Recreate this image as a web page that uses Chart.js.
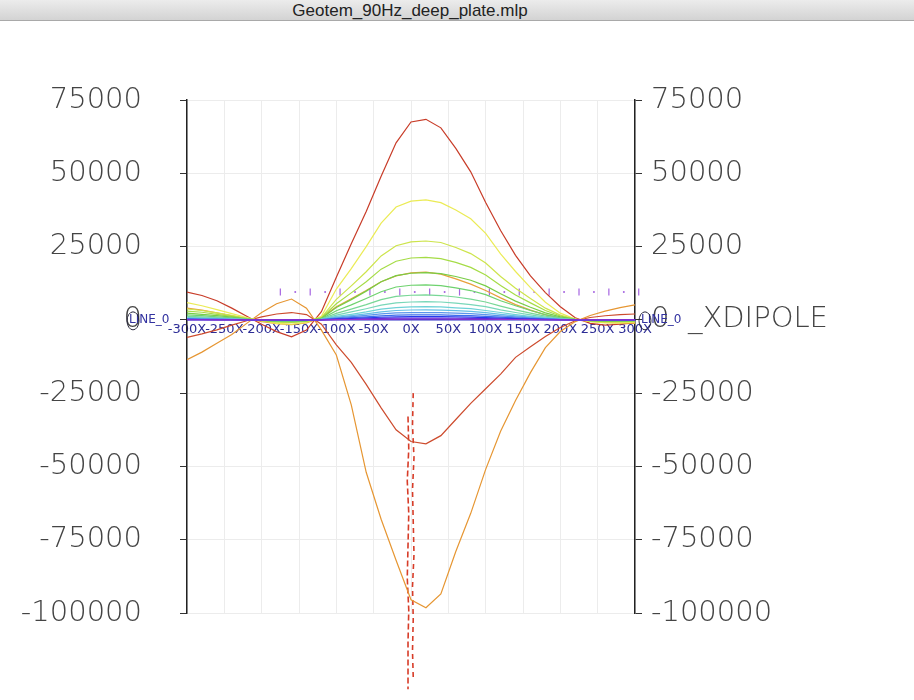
<!DOCTYPE html>
<html lang="en">
<head>
<meta charset="UTF-8">
<title>Geotem_90Hz_deep_plate.mlp</title>
<style>
    body { margin: 0; background: #fff; }
    #janela { position: relative; width: 914px; height: 700px; overflow: hidden; }
    #barra {
        position: absolute; left: 0; top: 0; width: 914px; height: 20px;
        background: linear-gradient(#ececec, #d3d3d3);
        border-bottom: 1px solid #a9a9a9;
        font: 17px "Liberation Sans", Arial, sans-serif; color: #222;
        text-align: center; line-height: 22px; z-index: 2;
    }
    #barra span { position: relative; left: -47px; }
    #caixa { position: absolute; left: 0; top: 0; width: 914px; height: 700px; }
</style>
</head>
<body>
<div id="janela">
    <div id="barra"><span>Geotem_90Hz_deep_plate.mlp</span></div>
    <div id="caixa"><canvas id="grafico"></canvas></div>
</div>
<script src="https://cdn.jsdelivr.net/npm/chart.js"></script>
<script>
// estacoes ao longo da linha (X)
const XS = [-300,-280,-260,-240,-220,-200,-180,-160,-140,-120,-100,-80,-60,-40,-20,0,20,40,60,80,100,120,140,160,180,200,220,240,260,280,300];

// canais
const canalVermelho = [9500,8300,6500,4000,1200,-1500,-4000,-5800,-3500,2800,14500,26000,37000,49000,60400,67500,68400,65500,58500,50500,40000,30500,22000,15000,9300,4500,700,-1200,-1800,-1500,-1000];
const canalVermelhoNeg = [-6000,-4800,-3400,-1800,-300,1000,2000,2500,1800,-1500,-8500,-14500,-22000,-30000,-37500,-41500,-42300,-39500,-34000,-28500,-23500,-18500,-12800,-9200,-5700,-2600,-300,800,1400,1800,2000];
const canalLaranjaNeg = [-13600,-11000,-8000,-5000,-1200,2500,5500,7100,4000,-3500,-12000,-29000,-52000,-68000,-82000,-95500,-98200,-93500,-79000,-66000,-51000,-38000,-27500,-18000,-9500,-4000,-600,1500,3000,4200,5100];
const canalLaranja = [4000,3300,2400,1400,400,-600,-1300,-1600,-1000,700,4500,7200,10000,13000,15000,16000,16300,15600,14000,12200,10000,7500,5200,3300,1700,600,0,-500,-900,-1100,-1200];
const canal01 = [5900,4800,3500,2100,800,-300,-1200,-1500,-900,1200,10500,17500,25000,33000,38500,40500,40900,40000,37500,34500,29500,22500,16500,11000,6000,2300,300,-600,-1000,-1000,-800];
const canal02 = [3700,3200,2400,1500,500,-300,-800,-950,-550,800,7000,11600,16400,21800,25300,26600,26900,26400,24700,22600,19400,14800,10800,7300,4000,1600,300,-400,-700,-700,-500];
const canal03 = [3000,2600,1900,1200,400,-200,-650,-750,-450,650,5500,9200,13000,17300,20000,21100,21300,20900,19600,17900,15300,11700,8500,5800,3200,1300,200,-300,-550,-550,-450];
const canal04 = [2300,1900,1450,900,300,-150,-500,-550,-300,500,4200,6900,9800,13000,15100,15900,16100,15800,14800,13500,11600,8900,6400,4300,2400,1000,150,-250,-400,-400,-300];
const canal05 = [1700,1450,1050,650,250,-100,-350,-400,-250,350,3100,5100,7300,9600,11200,11800,11900,11700,10900,10000,8600,6500,4800,3200,1800,700,100,-200,-300,-300,-250];
const canal06 = [1200,1000,770,470,170,-90,-250,-300,-170,250,2200,3650,5200,6900,8000,8400,8500,8300,7800,7100,6100,4700,3400,2300,1300,500,90,-130,-210,-210,-170];
const canal07 = [870,740,560,340,120,-60,-190,-220,-120,190,1600,2700,3800,5000,5800,6100,6200,6100,5700,5200,4500,3400,2500,1700,930,370,60,-90,-150,-150,-120];
const canal08 = [630,540,400,250,90,-45,-135,-160,-90,135,1170,1900,2700,3650,4200,4450,4500,4400,4100,3800,3200,2500,1800,1200,680,270,45,-70,-110,-110,-90];
const canal09 = [480,410,300,190,70,-35,-100,-120,-70,100,880,1460,2070,2750,3200,3370,3400,3330,3130,2860,2450,1870,1360,920,510,200,35,-50,-85,-85,-70];
const canal10 = [350,300,225,140,50,-25,-75,-90,-50,75,650,1075,1525,2025,2350,2475,2500,2450,2300,2100,1800,1375,1000,675,375,150,25,-40,-60,-60,-50];
const canal11 = [240,200,150,95,35,-17,-50,-60,-35,50,440,730,1040,1380,1600,1680,1700,1670,1560,1430,1220,935,680,460,255,100,17,-25,-40,-40,-35];
const canal12 = [150,130,100,60,22,-11,-33,-38,-22,33,290,470,670,890,1030,1090,1100,1080,1010,920,790,600,440,300,165,66,11,-16,-27,-27,-22];
const canal13 = [85,70,55,33,12,-6,-18,-21,-12,18,156,260,370,490,560,590,600,590,550,500,430,330,240,160,90,36,6,-9,-15,-15,-12];
const canal14 = [40,35,27,16,6,-3,-9,-10,-6,9,80,130,180,240,280,300,300,295,275,250,215,165,120,80,45,18,3,-5,-8,-8,-6];

// marcas roxas (linha do dipolo)
const marcasX = [-175,-135,-95,-55,-15,25,65,105,145,185,225,265,305,345,385,425];
const pontosX = [-155,-115,-75,-35,5,45,85,125,165,205,245,285,325,365,405];
const nivelMarcas = 9500;

// traco vermelho tracejado (perto de X = 0)
const tracoAx = [3,2,4,2,3,4,2,3,2,3];
const tracoAy = [-25000,-36000,-47000,-58000,-69000,-80000,-91000,-102000,-113000,-122000];
const tracoBx = [-4,-3,-5,-3,-4,-5,-3,-4,-4];
const tracoBy = [-33000,-44000,-55000,-66000,-77000,-88000,-99000,-110000,-126000];

const ticksY = [75000,50000,25000,0,-25000,-50000,-75000,-100000];

function pares(xs, ys) {
    return xs.map((x, i) => ({ x: x, y: ys[i] }));
}

function linha(dados, cor) {
    return {
        data: pares(XS, dados),
        borderColor: cor,
        borderWidth: 1.2,
        pointRadius: 0,
        tension: 0,
        fill: false
    };
}

const canais = [
    [canal14, 'rgb(150,50,205)'],
    [canal13, 'rgb(70,40,225)'],
    [canal12, 'rgb(40,60,235)'],
    [canal11, 'rgb(60,110,235)'],
    [canal10, 'rgb(90,150,235)'],
    [canal09, 'rgb(100,190,230)'],
    [canal08, 'rgb(110,210,215)'],
    [canal07, 'rgb(120,215,185)'],
    [canal06, 'rgb(120,215,150)'],
    [canal05, 'rgb(110,210,110)'],
    [canal04, 'rgb(120,205,70)'],
    [canal03, 'rgb(165,220,70)'],
    [canal02, 'rgb(205,228,75)'],
    [canal01, 'rgb(235,235,85)'],
    [canalLaranja, 'rgb(232,160,60)'],
    [canalLaranjaNeg, 'rgb(230,150,50)'],
    [canalVermelhoNeg, 'rgb(205,75,45)'],
    [canalVermelho, 'rgb(200,60,40)']
];

const datasets = canais.map(c => linha(c[0], c[1]));

datasets.push({
    data: marcasX.map(x => ({ x: x, y: nivelMarcas })),
    showLine: false, pointStyle: 'line', rotation: 90, pointRadius: 3.5,
    borderColor: 'rgb(165,100,225)', borderWidth: 1.2, clip: false
});
datasets.push({
    data: pontosX.map(x => ({ x: x, y: nivelMarcas })),
    showLine: false, pointStyle: 'circle', pointRadius: 1,
    backgroundColor: 'rgb(165,100,225)', borderColor: 'rgb(165,100,225)', borderWidth: 0, clip: false
});
datasets.push({
    data: pares(tracoAx, tracoAy),
    borderColor: 'rgb(215,60,40)', borderWidth: 1.6, borderDash: [5, 4],
    pointRadius: 0, tension: 0, clip: false
});
datasets.push({
    data: pares(tracoBx, tracoBy),
    borderColor: 'rgb(215,60,40)', borderWidth: 1.6, borderDash: [6, 3],
    pointRadius: 0, tension: 0, clip: false
});

// rotulos LINE_0 nas pontas da linha zero
const rotuloLinha = {
    id: 'rotuloLinha',
    afterDraw(chart) {
        const ctx = chart.ctx;
        const y0 = chart.scales.y.getPixelForValue(0);
        const area = chart.chartArea;
        ctx.save();
        ctx.font = '12px "DejaVu Sans", sans-serif';
        ctx.fillStyle = 'rgb(50,50,160)';
        ctx.strokeStyle = 'rgb(40,40,60)';
        ctx.textBaseline = 'middle';
        [area.left - 58, area.right + 6].forEach(x => {
            ctx.fillText('LINE_0', x, y0);
            ctx.beginPath();
            ctx.ellipse(x + 4, y0 + 1, 6, 9, 0, 0, Math.PI * 2);
            ctx.lineWidth = 1;
            ctx.stroke();
        });
        ctx.restore();
    }
};

const config = {
    type: 'line',
    data: { datasets: datasets },
    options: {
        responsive: true,
        maintainAspectRatio: false,
        animation: false,
        layout: { padding: { top: 100, bottom: 87, left: 0, right: 0 } },
        plugins: { legend: { display: false }, tooltip: { enabled: false } },
        scales: {
            x: {
                type: 'linear',
                position: { y: 0 },
                min: -300, max: 300,
                grid: { color: '#ececec', drawTicks: false },
                border: { color: 'rgb(50,50,200)', width: 1.5 },
                ticks: {
                    stepSize: 50, padding: 2,
                    autoSkip: false, minRotation: 0, maxRotation: 0,
                    color: 'rgb(45,45,150)',
                    font: { family: 'DejaVu Sans', size: 13 },
                    callback: v => v + 'X'
                }
            },
            y: {
                type: 'linear',
                position: 'left',
                min: -100000, max: 75000,
                afterBuildTicks: s => { s.ticks = ticksY.map(v => ({ value: v })); },
                afterFit: s => { s.width = 187; },
                grid: { color: '#ececec', tickLength: 7, tickColor: '#333' },
                border: { color: '#222', width: 1.5 },
                ticks: {
                    padding: 38, color: '#444',
                    font: { family: 'DejaVu Sans', size: 29, weight: '200' },
                    callback: v => String(v)
                }
            },
            y2: {
                type: 'linear',
                position: 'right',
                min: -100000, max: 75000,
                afterBuildTicks: s => { s.ticks = ticksY.map(v => ({ value: v })); },
                afterFit: s => { s.width = 279; },
                grid: { drawOnChartArea: false, tickLength: 7, tickColor: '#333' },
                border: { color: '#222', width: 1.5 },
                ticks: {
                    padding: 9, color: '#444',
                    font: { family: 'DejaVu Sans', size: 29, weight: '200' },
                    callback: v => v === 0 ? '0  _XDIPOLE' : String(v)
                }
            }
        }
    },
    plugins: [rotuloLinha]
};

new Chart(document.getElementById('grafico'), config);
</script>
</body>
</html>
